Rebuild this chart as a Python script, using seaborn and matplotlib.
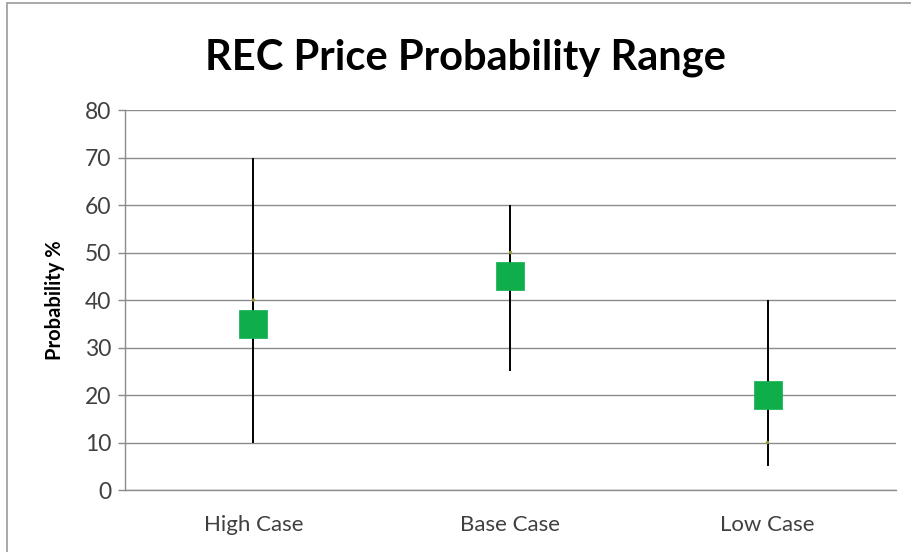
import matplotlib
matplotlib.use("Agg")
import matplotlib.pyplot as plt
import seaborn as sns
import pandas as pd
from matplotlib.patches import Rectangle

categories = ["High Case", "Base Case", "Low Case"]
high_vals = [70, 60, 40]
low_vals = [10, 25, 5]
mid_vals = [35, 45, 20]
close_vals = [40, 50, 10]
y_ticks = [0, 10, 20, 30, 40, 50, 60, 70, 80]

sns.set_theme(style="white")
plt.rcParams['font.family'] = ['Lato', 'DejaVu Sans']

df = pd.DataFrame({"case": categories, "high": high_vals, "low": low_vals,
                   "mid": mid_vals, "close": close_vals})
df["x"] = range(len(categories))

fig = plt.figure(figsize=(9.12, 5.52), dpi=100)
ax = fig.add_axes([0.137, 0.1123, 0.8455, 0.6884])

# figure border
fig.patches.append(Rectangle((0.008, -0.01), 1.1, 1.004, transform=fig.transFigure,
                             fill=False, edgecolor="#9a9a9a", linewidth=1.2))

ax.vlines(df["x"], df["low"], df["high"], color="black", linewidth=1.4, zorder=3)
sns.scatterplot(data=df, x="x", y="close", ax=ax, marker="o", s=6,
                color="#9a9a3a", edgecolor="none", zorder=4, legend=False)
sns.scatterplot(data=df, x="x", y="mid", ax=ax, marker="s", s=19.5**2,
                color="#0fae4b", edgecolor="#0fae4b", linewidth=0.5, zorder=5, legend=False)

ax.set_xlim(-0.5, 2.5)
ax.set_ylim(0, 80)
ax.set_yticks(y_ticks)
ax.set_xticks(df["x"])
ax.set_xticklabels(categories)
ax.yaxis.grid(True, color="#8c8c8c", linewidth=1.0)
ax.set_axisbelow(True)
for s in ["top", "right"]:
    ax.spines[s].set_visible(False)
ax.spines["left"].set_color("#8c8c8c")
ax.spines["bottom"].set_color("#8c8c8c")
ax.spines["left"].set_linewidth(1.0)
ax.spines["bottom"].set_linewidth(1.0)
ax.tick_params(axis="y", which="both", left=True, length=5, width=1.0, color="#8c8c8c",
               labelsize=16.5, labelcolor="#404040", pad=5)
ax.tick_params(axis="x", bottom=False, labelsize=16, labelcolor="#404040", pad=12)
ax.set_xlabel("")
ax.set_ylabel("Probability %", fontsize=14.5, fontweight="bold", color="black", labelpad=14)
fig.text(0.51, 0.896, "REC Price Probability Range", ha="center", va="center",
         fontsize=30, fontweight="bold", color="black")

fig.savefig("out.png", dpi=100)
